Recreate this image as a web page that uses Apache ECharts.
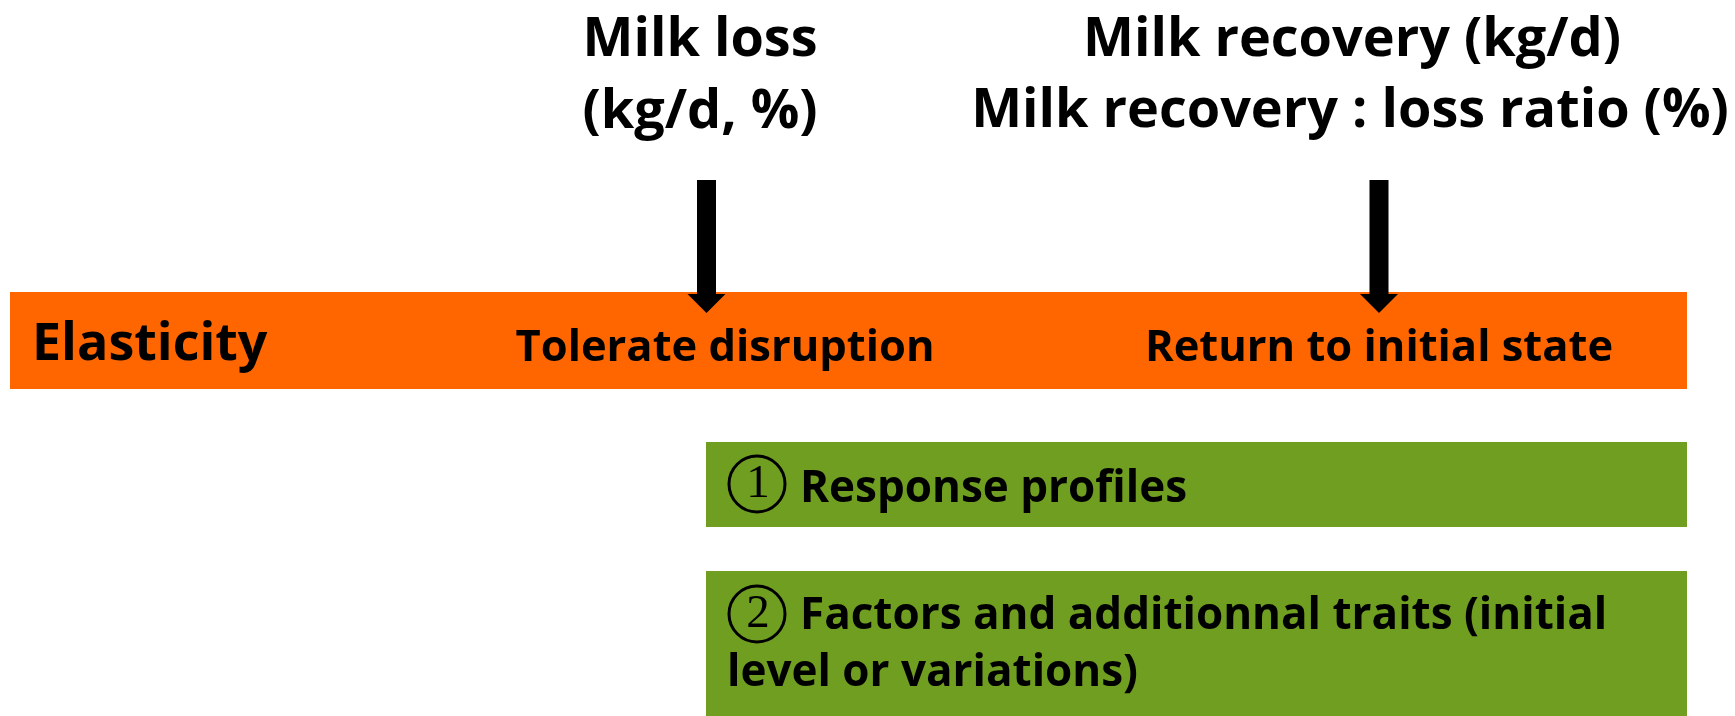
<!DOCTYPE html>
<html>
<head>
<meta charset="utf-8">
<script src="https://cdn.jsdelivr.net/npm/echarts@6/dist/echarts.min.js"></script>
<style>
  html, body { margin: 0; background: #fff; }
  #main { width: 1735px; height: 716px; }
</style>
</head>
<body>
<div id="main"></div>
<script>
// diagram space: x 0..1735 left->right, y 0..716 top->down

// coloured bands (orange timeline + two green boxes)
const bandX0 = [10, 706, 706]
const bandX1 = [1687, 1687, 1687]
const bandY0 = [292, 442, 571]
const bandY1 = [389, 527, 716]
const bandKind = ['timeline', 'box', 'box']

// arrows pointing down onto the timeline
const arrowX = [706.5, 1379]
const arrowTop = [180, 180]
const arrowTip = [313, 313]

// headings above the arrows
const headText = ['Milk loss', '(kg/d, %)', 'Milk recovery (kg/d)', 'Milk recovery : loss ratio (%)']
const headX = [700, 700, 1352, 1350]
const headY = [41, 113, 41, 112]

// texts on the timeline
const timelineText = ['Elasticity', 'Tolerate disruption', 'Return to initial state']
const timelineX = [32, 725, 1379]
const timelineY = [345, 349, 349]

// circled numbers in the green boxes
const markDigit = ['1', '2']
const markX = [757, 757]
const markY = [484, 614]

// texts in the green boxes
const boxText = ['Response profiles', 'Factors and additionnal traits (initial', 'level or variations)']
const boxX = [800, 800, 727]
const boxY = [489, 616, 673]

const FONT = '"Open Sans", "DejaVu Sans", sans-serif'

const chart = echarts.init(document.getElementById('main'), null, { renderer: 'canvas' })

// one custom series of bold labels; sizeFn / alignFn get the label index
function textSeries (texts, xs, ys, sizeFn, alignFn) {
  return {
    type: 'custom',
    silent: true,
    z: 4,
    data: texts.map((t, i) => [xs[i], ys[i], i]),
    renderItem: function (params, api) {
      const p = api.coord([api.value(0), api.value(1)])
      const i = api.value(2)
      return {
        type: 'text',
        x: p[0],
        y: p[1],
        style: {
          text: texts[i],
          fontFamily: FONT,
          fontWeight: 'bold',
          fontSize: sizeFn(i),
          fill: '#000',
          align: alignFn(i),
          verticalAlign: 'middle'
        }
      }
    }
  }
}

const option = {
  animation: false,
  grid: { left: 0, right: 0, top: 0, bottom: 0 },
  xAxis: { type: 'value', min: 0, max: 1735, show: false },
  yAxis: { type: 'value', min: 0, max: 716, inverse: true, show: false },
  series: [
    {
      type: 'custom',
      silent: true,
      data: bandX0.map((x, i) => [x, bandY0[i], bandX1[i], bandY1[i], i]),
      renderItem: function (params, api) {
        const a = api.coord([api.value(0), api.value(1)])
        const b = api.coord([api.value(2), api.value(3)])
        const i = api.value(4)
        return {
          type: 'rect',
          shape: { x: a[0], y: a[1], width: b[0] - a[0], height: b[1] - a[1] },
          style: { fill: bandKind[i] === 'timeline' ? '#ff6600' : '#6f9e21' }
        }
      }
    },
    {
      type: 'custom',
      silent: true,
      z: 3,
      data: arrowX.map((x, i) => [x, arrowTop[i], arrowTip[i]]),
      renderItem: function (params, api) {
        const top = api.coord([api.value(0), api.value(1)])
        const tip = api.coord([api.value(0), api.value(2)])
        const cx = top[0]
        const sw = 9.5, hw = 19, hh = 19
        const base = tip[1] - hh
        return {
          type: 'polygon',
          shape: {
            points: [
              [cx - sw, top[1]], [cx + sw, top[1]], [cx + sw, base], [cx + hw, base],
              [cx, tip[1]], [cx - hw, base], [cx - sw, base]
            ]
          },
          style: { fill: '#000' }
        }
      }
    },
    {
      // circled numbers
      type: 'custom',
      silent: true,
      z: 4,
      data: markX.map((x, i) => [x, markY[i], i]),
      renderItem: function (params, api) {
        const c = api.coord([api.value(0), api.value(1)])
        const i = api.value(2)
        return {
          type: 'group',
          children: [
            {
              type: 'circle',
              shape: { cx: c[0], cy: c[1], r: 28 },
              style: { fill: 'none', stroke: '#000', lineWidth: 3 }
            },
            {
              type: 'text',
              x: c[0] + 1,
              y: c[1] + 1,
              style: {
                text: markDigit[i],
                fontFamily: '"Liberation Serif", "DejaVu Serif", serif',
                fontSize: 47,
                fill: '#000',
                align: 'center',
                verticalAlign: 'middle'
              }
            }
          ]
        }
      }
    },
    textSeries(headText, headX, headY, () => 54, () => 'center'),
    textSeries(timelineText, timelineX, timelineY, i => i === 0 ? 52 : 43.5, i => i === 0 ? 'left' : 'center'),
    textSeries(boxText, boxX, boxY, () => 44, () => 'left')
  ]
}

chart.setOption(option)
</script>
</body>
</html>
